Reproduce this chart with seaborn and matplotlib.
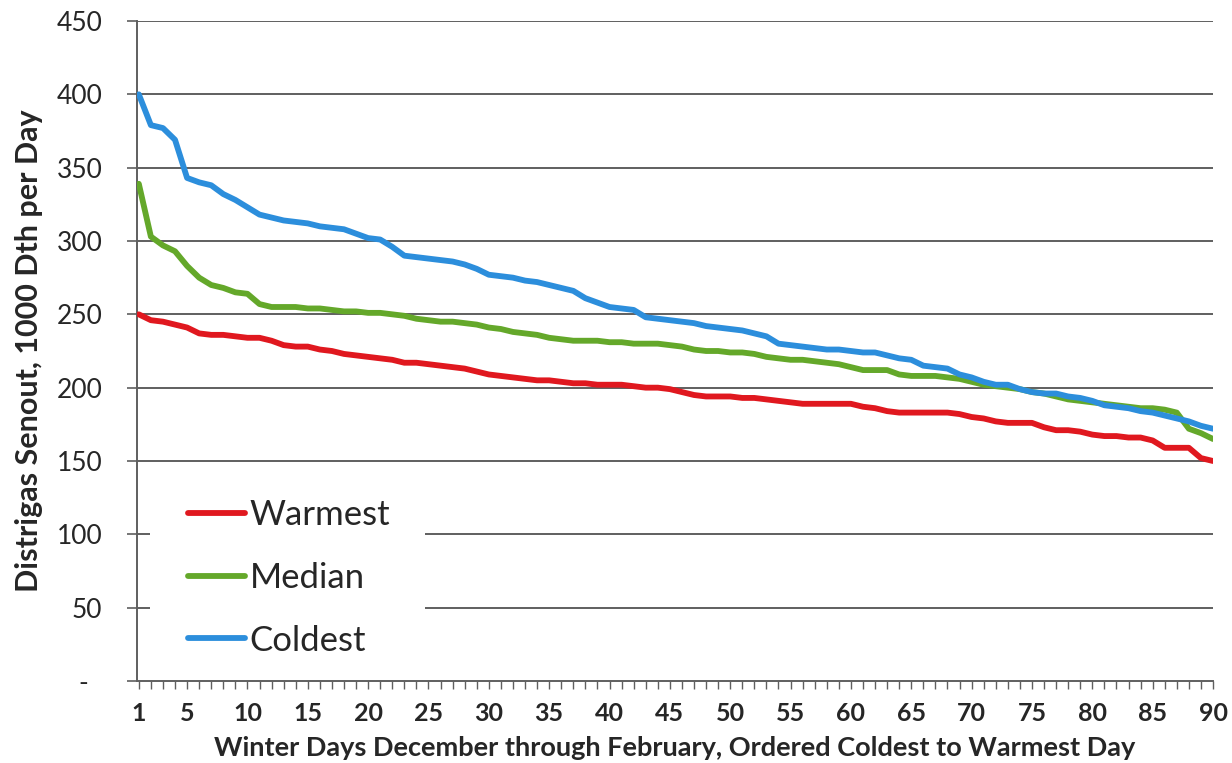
import numpy as np
import pandas as pd
import matplotlib
matplotlib.use("Agg")
import matplotlib.pyplot as plt
import seaborn as sns
from matplotlib.ticker import FixedLocator, MultipleLocator
from matplotlib.patches import Rectangle

days = list(range(1, 91))

warmest = [250, 246, 245, 243, 241, 237, 236, 236, 235, 234,
           234, 232, 229, 228, 228, 226, 225, 223, 222, 221,
           220, 219, 217, 217, 216, 215, 214, 213, 211, 209,
           208, 207, 206, 205, 205, 204, 203, 203, 202, 202,
           202, 201, 200, 200, 199, 197, 195, 194, 194, 194,
           193, 193, 192, 191, 190, 189, 189, 189, 189, 189,
           187, 186, 184, 183, 183, 183, 183, 183, 182, 180,
           179, 177, 176, 176, 176, 173, 171, 171, 170, 168,
           167, 167, 166, 166, 164, 159, 159, 159, 152, 150]

median = [339, 303, 297, 293, 283, 275, 270, 268, 265, 264,
          257, 255, 255, 255, 254, 254, 253, 252, 252, 251,
          251, 250, 249, 247, 246, 245, 245, 244, 243, 241,
          240, 238, 237, 236, 234, 233, 232, 232, 232, 231,
          231, 230, 230, 230, 229, 228, 226, 225, 225, 224,
          224, 223, 221, 220, 219, 219, 218, 217, 216, 214,
          212, 212, 212, 209, 208, 208, 208, 207, 206, 204,
          202, 201, 200, 199, 197, 196, 194, 192, 191, 190,
          189, 188, 187, 186, 186, 185, 183, 172, 169, 165]

coldest = [400, 379, 377, 369, 343, 340, 338, 332, 328, 323,
           318, 316, 314, 313, 312, 310, 309, 308, 305, 302,
           301, 296, 290, 289, 288, 287, 286, 284, 281, 277,
           276, 275, 273, 272, 270, 268, 266, 261, 258, 255,
           254, 253, 248, 247, 246, 245, 244, 242, 241, 240,
           239, 237, 235, 230, 229, 228, 227, 226, 226, 225,
           224, 224, 222, 220, 219, 215, 214, 213, 209, 207,
           204, 202, 202, 199, 197, 196, 196, 194, 193, 191,
           188, 187, 186, 184, 183, 181, 179, 177, 174, 172]

series_names = ["Warmest", "Median", "Coldest"]
series_colors = ["#E0181F", "#64A82A", "#2C8EDC"]
x_tick_labels = [1, 5, 10, 15, 20, 25, 30, 35, 40, 45, 50, 55, 60, 65, 70, 75, 80, 85, 90]
y_ticks = [0, 50, 100, 150, 200, 250, 300, 350, 400, 450]
y_tick_labels = ["-  ", "50", "100", "150", "200", "250", "300", "350", "400", "450"]

df = pd.DataFrame({
    "day": days * 3,
    "value": warmest + median + coldest,
    "series": ["Warmest"] * 90 + ["Median"] * 90 + ["Coldest"] * 90,
})

sns.set_theme(style="white")
plt.rcParams["font.family"] = ["Lato", "DejaVu Sans"]

W, H = 1232, 763
fig = plt.figure(figsize=(W / 100, H / 100), dpi=100)
ax = fig.add_axes([137 / W, (H - 681) / H, (1213 - 137) / W, (681 - 21) / H])

sns.lineplot(data=df, x="day", y="value", hue="series", hue_order=series_names,
             palette=series_colors, linewidth=4.2, ax=ax, legend=False, zorder=3)

ax.set_xlim(0.85, 90)
ax.set_ylim(0, 450)

# gridlines
for yv in y_ticks[1:]:
    ax.axhline(yv, color="#5f5f5f", linewidth=1.4, zorder=1)

ax.yaxis.set_major_locator(FixedLocator(y_ticks))
ax.set_yticklabels(y_tick_labels, fontsize=19)
ax.tick_params(axis="y", length=7, width=1.2, color="#5f5f5f", direction="out", pad=18, left=True)

ax.xaxis.set_major_locator(FixedLocator(x_tick_labels))
ax.set_xticklabels([str(v) for v in x_tick_labels], fontsize=18, fontweight="bold")
ax.xaxis.set_minor_locator(MultipleLocator(1))
ax.tick_params(axis="x", which="both", length=6, width=1.0, color="#5f5f5f", direction="out", pad=9, bottom=True)

for side in ["top", "right"]:
    ax.spines[side].set_visible(False)
for side in ["left", "bottom"]:
    ax.spines[side].set_color("#5f5f5f")
    ax.spines[side].set_linewidth(1.4)

ax.set_xlabel("Winter Days December through February, Ordered Coldest to Warmest Day",
              fontsize=19.5, fontweight="bold", labelpad=8)
ax.set_ylabel("Distrigas Senout, 1000 Dth per Day", fontsize=22, fontweight="bold", labelpad=10)

# white legend background covering gridlines
ax.add_patch(Rectangle(((150 - 137) / 1076, (681 - 672) / 660), (425 - 150) / 1076, (672 - 472) / 660,
                       transform=ax.transAxes, facecolor="white", edgecolor="none", zorder=2))

handles = [plt.Line2D([0], [0], color=c, linewidth=4.2) for c in series_colors]
fs = 25
leg = ax.legend(handles, series_names, loc="center left",
                bbox_to_anchor=((188 - 137) / 1076, (681 - 578) / 660),
                fontsize=fs, frameon=False,
                handlelength=1.65, handletextpad=0.12, labelspacing=0.88, borderpad=0,
                borderaxespad=0)
leg.set_zorder(4)

fig.savefig("out.png", dpi=100, facecolor="white")
